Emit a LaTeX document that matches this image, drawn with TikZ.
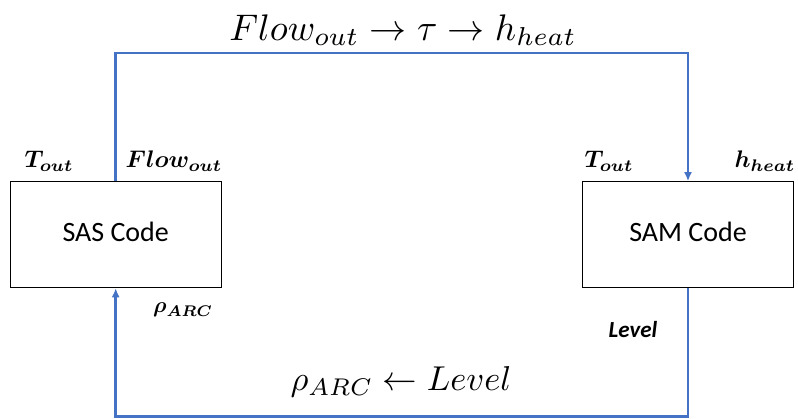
\documentclass[tikz,border=0pt]{standalone}
\usepackage{fontspec}
\usepackage{amsmath}
\usepackage{graphicx}
\usetikzlibrary{arrows.meta}
\newfontfamily\carl{Carlito}
\definecolor{flowblue}{RGB}{68,114,196}
\begin{document}
\begin{tikzpicture}[x=1pt,y=-1pt,
  codebox/.style={draw=black,line width=1.1pt,minimum width=211pt,minimum height=106pt,inner sep=0pt,font=\carl\fontsize{28}{33}\selectfont},
  flowline/.style={draw=flowblue,line width=2.8pt},
  flowarrow/.style={flowline,-{Latex[length=9pt,width=8pt]}},
  biglabel/.style={inner sep=0pt,font=\fontsize{10}{12}\selectfont},
  smalllabel/.style={inner sep=0pt,font=\fontsize{10}{12}\selectfont\boldmath},
  levellabel/.style={inner sep=0pt,font=\carl\bfseries\itshape\fontsize{23}{27}\selectfont}
]
\useasboundingbox (0,0) rectangle (798,418);
\node[codebox] (sas) at (115.7,234.7) {\raisebox{5pt}{SAS Code}};
\node[codebox] (sam) at (688,234.7) {\raisebox{5pt}{SAM Code}};
\node[biglabel] (toplab) at (403,30) {\scalebox{3.7}{$Flow_{out}\rightarrow\tau\rightarrow h_{heat}$}};
\node[biglabel] (botlab) at (401,382) {\scalebox{3.45}{$\rho_{ARC}\leftarrow Level$}};
\node[smalllabel] (sasT) at (49,161) {\scalebox{2.4}{$T_{out}$}};
\node[smalllabel] (sasF) at (174,161) {\scalebox{2.4}{$Flow_{out}$}};
\node[smalllabel] (samT) at (609,161) {\scalebox{2.4}{$T_{out}$}};
\node[smalllabel] (samH) at (765,161) {\scalebox{2.4}{$h_{heat}$}};
\node[smalllabel] (rho) at (183,310) {\scalebox{2.2}{$\rho_{ARC}$}};
\node[levellabel] (lev) at (633,330) {Level};
\coordinate (tl) at (115.7,53);
\coordinate (tr) at (688,53);
\coordinate (bl) at (115.7,416.5);
\coordinate (br) at (688,416.5);
\draw[flowarrow] (sas.north) -- (tl) -- (tr) -- (sam.north);
\draw[flowarrow] (sam.south) -- (br) -- (bl) -- (sas.south);
\end{tikzpicture}
\end{document}
